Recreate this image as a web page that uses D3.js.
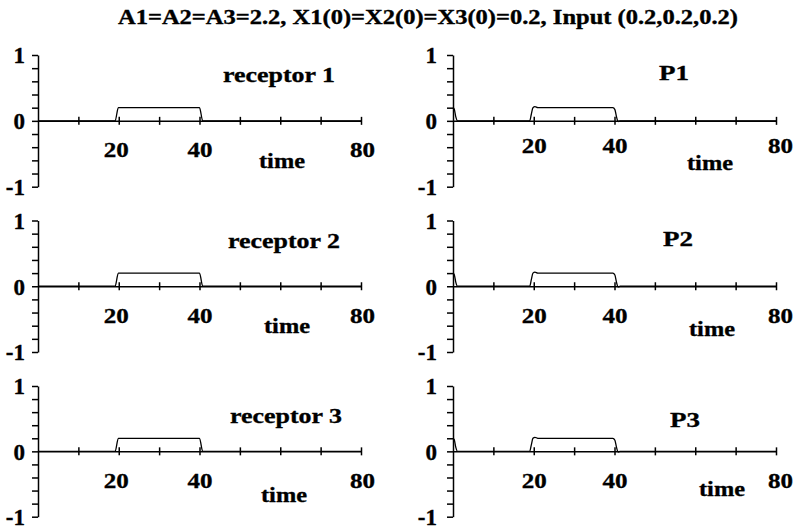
<!DOCTYPE html>
<html>
<head>
<meta charset="utf-8">
<script src="https://cdn.jsdelivr.net/npm/d3@7"></script>
<style>
  body { margin: 0; background: #fff; }
  svg text { font-family: "Liberation Serif", "Times New Roman", serif; font-weight: bold; fill: #000; stroke: #000; stroke-width: 0.35px; }
</style>
</head>
<body>
<svg id="chart" width="796" height="530"></svg>
<script>
// data
const title = "A1=A2=A3=2.2, X1(0)=X2(0)=X3(0)=0.2, Input (0.2,0.2,0.2)";
const panelNames = ["receptor 1", "P1", "receptor 2", "P2", "receptor 3", "P3"];
const xTicks = [10, 20, 30, 40, 50, 60, 70, 80];
const xTickLabels = [20, 40, 80];
const yTicks = [-1, -0.8, -0.6, -0.4, -0.2, 0, 0.2, 0.4, 0.6, 0.8, 1];
const yTickLabels = [-1, 0, 1];

const receptorTime = [0, 19.1, 19.9, 40, 40.8, 80];
const receptorValue = [0, 0, 0.2, 0.2, 0, 0];
const pTime = [0, 0.3, 0.7, 1.1, 19, 19.4, 19.8, 20.3, 21, 39.6, 40.1, 40.5, 40.9, 41.4, 80];
const pValue = [0.2, 0.18, 0.06, 0, 0, 0.1, 0.2, 0.215, 0.2, 0.2, 0.17, 0.06, -0.01, 0, 0];

// layout
const cols = [{ x0: 38, x1: 361, pad: 13 }, { x0: 453, x1: 776, pad: 16 }];
const rows = [{ top: 55, bot: 186.7 }, { top: 220.5, bot: 352 }, { top: 386, bot: 516.7 }];
const nameLabelPos = [[279, 82], [674, 80], [284, 248], [678, 246], [286, 423], [685, 427]];
const nameLabelLen = [112, 30, 112, 30, 112, 30];
const timeLabelPos = [[282, 168], [710, 170], [287, 333], [712, 336], [284, 502], [722, 496]];

const svg = d3.select("#chart");

svg.append("text")
    .attr("x", 428)
    .attr("y", 24)
    .attr("text-anchor", "middle")
    .attr("font-size", 20)
    .attr("textLength", 620)
    .attr("lengthAdjust", "spacingAndGlyphs")
    .text(title);

const line = d3.line().curve(d3.curveMonotoneX);

panelNames.forEach(function (name, i) {
    const col = cols[i % 2];
    const row = rows[Math.floor(i / 2)];
    const isP = i % 2 == 1;

    const x = d3.scaleLinear().domain([0, 80]).range([col.x0, col.x1]);
    const y = d3.scaleLinear().domain([-1, 1]).range([row.bot, row.top]);

    const g = svg.append("g");

    // y axis with small ticks on the left
    const yAxis = g.append("g")
        .attr("transform", "translate(" + col.x0 + ",0)")
        .call(d3.axisLeft(y)
            .tickValues(yTicks)
            .tickSize(6)
            .tickSizeOuter(0)
            .tickPadding(col.pad - 6)
            .tickFormat(function (d) { return yTickLabels.includes(Math.round(d * 10) / 10) ? String(Math.round(d)) : ""; }));
    yAxis.selectAll("text").attr("font-size", 23).attr("dy", "0.34em")
        .attr("font-family", "Liberation Serif").attr("font-weight", "bold");

    // x axis with ticks crossing the line
    const xAxis = g.append("g")
        .attr("transform", "translate(0," + y(0) + ")")
        .call(d3.axisBottom(x)
            .tickValues(xTicks)
            .tickSize(4)
            .tickSizeOuter(0)
            .tickPadding(i == 1 ? 13 : 17)
            .tickFormat(function (d) { return xTickLabels.includes(d) ? d : ""; }));
    xAxis.selectAll(".tick line").attr("y1", -4);
    xAxis.selectAll("text").attr("font-size", 22)
        .attr("font-family", "Liberation Serif").attr("font-weight", "bold")
        .attr("dx", function (d) { return d == 80 ? (i % 2 ? 4 : 1) : (d == 20 && i % 2 == 0 ? -3 : 0); })
        .attr("textLength", function (d) { return xTickLabels.includes(d) ? 25 : null; })
        .attr("lengthAdjust", "spacingAndGlyphs");

    g.selectAll(".domain, .tick line").attr("stroke", "#000").attr("stroke-width", 1.5);

    // series
    const ts = isP ? pTime : receptorTime;
    const vs = isP ? pValue : receptorValue;
    g.append("path")
        .attr("d", line(ts.map(function (t, k) { return [x(t), y(vs[k])]; })))
        .attr("fill", "none")
        .attr("stroke", "#000")
        .attr("stroke-width", 1.3);

    g.append("text")
        .attr("x", nameLabelPos[i][0])
        .attr("y", nameLabelPos[i][1])
        .attr("text-anchor", "middle")
        .attr("font-size", 22)
        .attr("textLength", nameLabelLen[i])
        .attr("lengthAdjust", "spacingAndGlyphs")
        .text(name);

    g.append("text")
        .attr("x", timeLabelPos[i][0])
        .attr("y", timeLabelPos[i][1])
        .attr("text-anchor", "middle")
        .attr("font-size", 22)
        .attr("textLength", 46)
        .attr("lengthAdjust", "spacingAndGlyphs")
        .text("time");
});
</script>
</body>
</html>
